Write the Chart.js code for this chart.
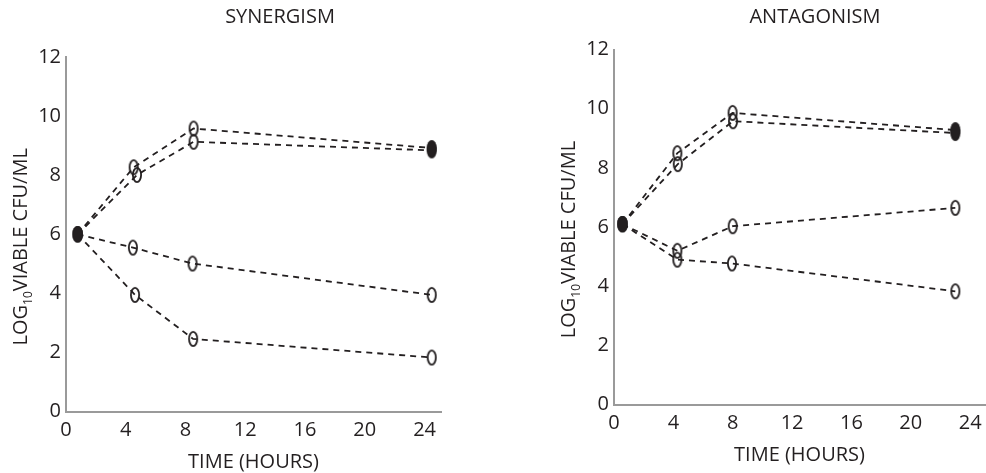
<!DOCTYPE html>
<html>
<head>
<meta charset="utf-8">
<script src="https://cdn.jsdelivr.net/npm/chart.js@4.4.1/dist/chart.umd.min.js"></script>
<style>
  html, body { margin: 0; padding: 0; background: #fff; overflow: hidden; }
  #wrap { position: relative; width: 986px; height: 473px; overflow: hidden; }
  canvas { position: absolute; top: 0; }
  #synergism { left: 0; }
  #antagonism { left: 545px; }
</style>
</head>
<body>
<div id="wrap">
  <canvas id="synergism" width="560" height="473"></canvas>
  <canvas id="antagonism" width="540" height="473"></canvas>
</div>
<script>
const INK = "#231f20";
const AXIS = "#9a9a9a";
const FONT = "'Open Sans', sans-serif";

const HOUR_TICKS = [0, 4, 8, 12, 16, 20, 24];
const LOG_TICKS = [0, 2, 4, 6, 8, 10, 12];

// SYNERGISM
const synHours1 = [0.78, 4.53, 8.54, 24.48];
const synLog1   = [6.0, 8.27, 9.58, 8.92];
const synHours2 = [0.78, 4.75, 8.54, 24.48];
const synLog2   = [6.0, 8.01, 9.13, 8.84];
const synHours3 = [0.78, 4.48, 8.47, 24.48];
const synLog3   = [6.0, 5.55, 5.01, 3.95];
const synHours4 = [0.78, 4.62, 8.51, 24.48];
const synLog4   = [6.0, 3.95, 2.46, 1.83];

// ANTAGONISM
const antHours1 = [0.57, 4.27, 7.99, 23.0];
const antLog1   = [6.1, 8.5, 9.86, 9.28];
const antHours2 = [0.57, 4.3, 8.02, 23.0];
const antLog2   = [6.1, 8.13, 9.58, 9.18];
const antHours3 = [0.57, 4.27, 8.0, 23.0];
const antLog3   = [6.1, 5.2, 6.03, 6.65];
const antHours4 = [0.57, 4.27, 7.95, 23.0];
const antLog4   = [6.1, 4.9, 4.77, 3.83];

// ellipse markers ("0" shaped), open and filled
function ellipseMarker(filled) {
    const c = document.createElement("canvas");
    c.width = 12;
    c.height = 18;
    const g = c.getContext("2d");
    g.beginPath();
    if (filled) {
        g.ellipse(6, 9, 5, 8, 0, 0, Math.PI * 2);
        g.fillStyle = INK;
        g.fill();
    } else {
        g.ellipse(6, 9, 4.1, 7.1, 0, 0, Math.PI * 2);
        g.lineWidth = 1.8;
        g.strokeStyle = INK;
        g.stroke();
    }
    return c;
}
const OPEN = ellipseMarker(false);
const FILLED = ellipseMarker(true);

function series(hours, logs, filledEnd) {
    return {
        data: hours.map((h, i) => ({ x: h, y: logs[i] })),
        borderColor: INK,
        borderWidth: 1.8,
        borderDash: [6, 5],
        fill: false,
        tension: 0,
        pointRadius: 4,
        pointStyle: ctx => {
            const last = ctx.dataset.data.length - 1;
            if (ctx.dataIndex === 0 || (filledEnd && ctx.dataIndex === last)) return FILLED;
            return OPEN;
        }
    };
}

// rotated y title with a real subscript
const yTitle = {
    id: "yTitle",
    afterDraw(chart) {
        const { ctx, chartArea } = chart;
        const x = chartArea.left - 39.5;
        const y = (chartArea.top + chartArea.bottom) / 2 + 12.5;
        const big = "20px " + FONT;
        const small = "12px " + FONT;
        ctx.save();
        ctx.fillStyle = INK;
        ctx.textBaseline = "alphabetic";
        ctx.textAlign = "left";
        ctx.font = big;
        const w1 = ctx.measureText("LOG").width;
        const w3 = ctx.measureText("VIABLE CFU/ML").width;
        ctx.font = small;
        const w2 = ctx.measureText("10").width;
        ctx.translate(x, y);
        ctx.rotate(-Math.PI / 2);
        let cx = -(w1 + w2 + w3) / 2;
        ctx.font = big;
        ctx.fillText("LOG", cx, 0);
        cx += w1;
        ctx.font = small;
        ctx.fillText("10", cx, 5.5);
        cx += w2;
        ctx.font = big;
        ctx.fillText("VIABLE CFU/ML", cx, 0);
        ctx.restore();
    }
};

function makeChart(id, title, datasets, o) {
    return new Chart(document.getElementById(id), {
        type: "line",
        data: { datasets },
        plugins: [yTitle],
        options: {
            responsive: false,
            animation: false,
            layout: { padding: { left: 0, right: 0, top: 0, bottom: o.padBottom } },
            plugins: {
                legend: { display: false },
                tooltip: { enabled: false },
                title: {
                    display: true,
                    text: title,
                    color: INK,
                    font: { family: FONT, size: 20, weight: "normal" },
                    padding: { top: 5, bottom: o.titleGap }
                }
            },
            scales: {
                x: {
                    type: "linear",
                    min: 0,
                    max: o.xMax,
                    afterBuildTicks: s => { s.ticks = HOUR_TICKS.map(v => ({ value: v })); },
                    grid: { display: false, drawTicks: false },
                    border: { display: true, color: AXIS, width: 2 },
                    ticks: { color: INK, padding: 7, font: { family: FONT, size: 20 } },
                    title: {
                        display: true,
                        text: "TIME (HOURS)",
                        color: INK,
                        font: { family: FONT, size: 20, lineHeight: 1 },
                        padding: { top: 2.9, bottom: 0.5 }
                    }
                },
                y: {
                    type: "linear",
                    min: 0,
                    max: 12,
                    afterBuildTicks: s => { s.ticks = LOG_TICKS.map(v => ({ value: v })); },
                    afterFit: s => { s.width = o.yWidth; },
                    grid: { display: false, drawTicks: false },
                    border: { display: true, color: AXIS, width: 2 },
                    ticks: { color: INK, padding: 5, font: { family: FONT, size: 20 } }
                },
                // empty spacer on the right so the chart title stays centred on the canvas
                spacer: {
                    type: "linear",
                    position: "right",
                    display: true,
                    afterFit: s => { s.width = o.rightGap; },
                    grid: { display: false, drawTicks: false },
                    border: { display: false },
                    ticks: { display: false }
                }
            }
        }
    });
}

makeChart("synergism", "SYNERGISM", [
    series(synHours1, synLog1, true),
    series(synHours2, synLog2, true),
    series(synHours3, synLog3, false),
    series(synHours4, synLog4, false)
], { xMax: 25.1, yWidth: 66, rightGap: 119, padBottom: 0, titleGap: 28 });

makeChart("antagonism", "ANTAGONISM", [
    series(antHours1, antLog1, true),
    series(antHours2, antLog2, true),
    series(antHours3, antLog3, false),
    series(antHours4, antLog4, false)
], { xMax: 25, yWidth: 69, rightGap: 100, padBottom: 7, titleGap: 20.6 });
</script>
</body>
</html>
